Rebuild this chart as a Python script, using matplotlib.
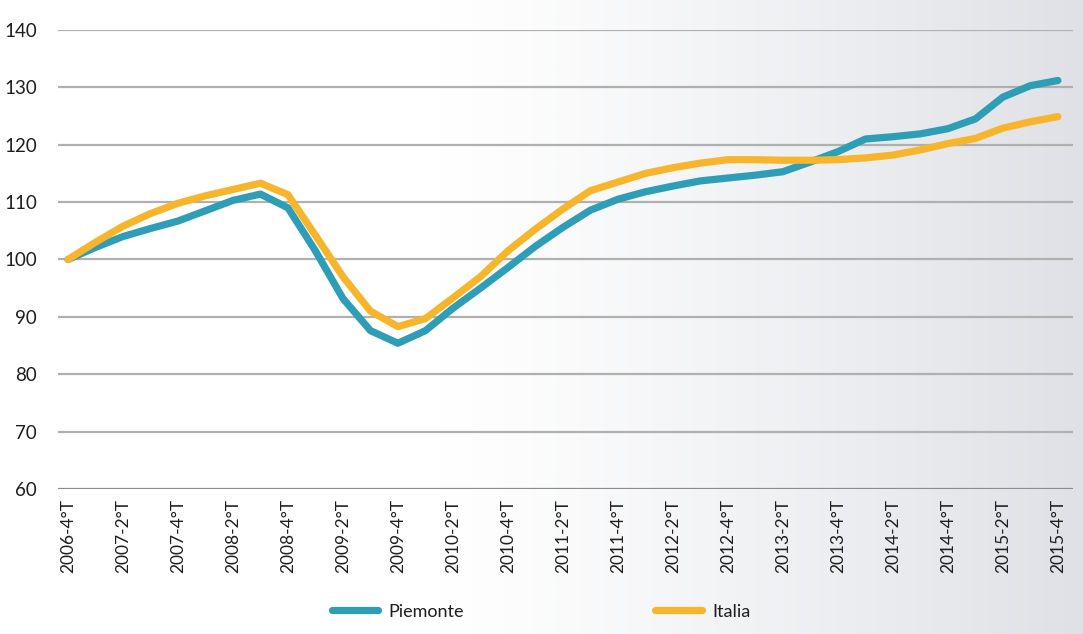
import numpy as np
import matplotlib.pyplot as plt
from matplotlib.colors import LinearSegmentedColormap

plt.rcParams['font.family'] = ['Lato', 'DejaVu Sans']

# quarterly index, 2006-4T = 100
periods = ["2006-4°T"] + [f"{y}-{q}°T" for y in range(2007, 2016) for q in (1, 2, 3, 4)]
piemonte = [100.0, 102.1, 104.0, 105.4, 106.7, 108.5, 110.3, 111.4, 109.0, 101.5,
            93.2, 87.6, 85.4, 87.6, 91.5, 95.0, 98.6, 102.3, 105.6, 108.6,
            110.5, 111.8, 112.8, 113.7, 114.2, 114.7, 115.3, 117.0, 118.8, 121.0,
            121.4, 121.9, 122.8, 124.5, 128.3, 130.3, 131.2]
italia = [100.0, 103.0, 105.8, 108.0, 109.8, 111.1, 112.2, 113.3, 111.3, 104.2,
          97.0, 91.0, 88.3, 89.7, 93.3, 97.0, 101.5, 105.3, 108.8, 112.0,
          113.5, 115.0, 116.0, 116.8, 117.4, 117.4, 117.3, 117.3, 117.4, 117.7,
          118.2, 119.1, 120.2, 121.1, 122.9, 124.0, 124.9]
yticks = [60, 70, 80, 90, 100, 110, 120, 130, 140]

teal = "#2e9db6"
gold = "#f7b52c"

fig = plt.figure(figsize=(10.83, 6.34), dpi=100)

# soft white-to-grey background running left to right
bg = fig.add_axes([0, 0, 1, 1], zorder=-10)
grad = np.linspace(0, 1, 600)
grad = np.clip((grad - 0.40) / 0.60, 0, 1) ** 1.2
cmap = LinearSegmentedColormap.from_list("bg", ["#ffffff", "#dfe1e6"])
bg.imshow(grad[np.newaxis, :], aspect="auto", cmap=cmap, extent=[0, 1, 0, 1],
          vmin=0, vmax=1)
bg.set_axis_off()

ax = fig.add_axes([0.0536, 0.2287, 0.9372, 0.724])
ax.patch.set_alpha(0)

x = np.arange(len(periods))
ax.plot(x, piemonte, color=teal, lw=5.2, solid_joinstyle="round",
        solid_capstyle="round", label="Piemonte", zorder=3)
ax.plot(x, italia, color=gold, lw=5.2, solid_joinstyle="round",
        solid_capstyle="round", label="Italia", zorder=3)

ax.set_ylim(60, 140)
ax.set_xlim(-0.36, 36.55)
ax.set_yticks(yticks)
for v in yticks:
    ax.axhline(v, color="#8c8c8c" if v == 60 else "#b0b0b0", lw=1.6, zorder=1)

ax.set_xticks(x[::2])
ax.set_xticklabels(periods[::2], rotation=90, fontsize=12.5, color="#1e1e1e")
ax.tick_params(axis="x", length=0, pad=7)
ax.tick_params(axis="y", length=0, pad=15, labelsize=13.5, labelcolor="#1e1e1e")
for s in ax.spines.values():
    s.set_visible(False)

fig.legend(loc="center", bbox_to_anchor=(0.4995, 0.035), ncol=2, frameon=False,
           fontsize=13, handlelength=2.6, columnspacing=10.6, handletextpad=0.55,
           labelcolor="#1e1e1e")

fig.savefig("out.png", dpi=100)
